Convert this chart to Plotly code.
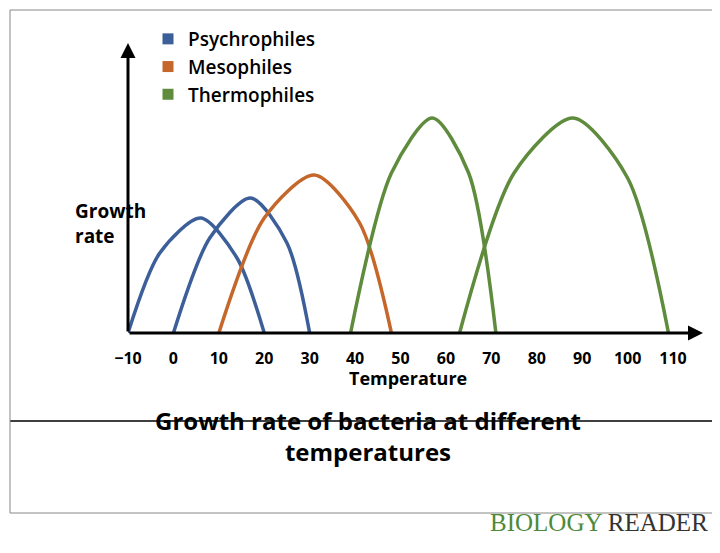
import plotly.graph_objects as go

# data (temperature °C, relative growth rate)
psy1_x = [-10, -3, 6, 14, 20]
psy1_y = [0, 80, 115, 75, 0]
psy2_x = [0, 8, 17, 25, 30]
psy2_y = [0, 95, 135, 90, 0]
meso_x = [10, 20, 31, 41, 48]
meso_y = [0, 115, 158, 110, 0]
thermo1_x = [39, 48, 57, 65, 71]
thermo1_y = [0, 160, 215, 160, 0]
thermo2_x = [63, 75, 88, 100, 109]
thermo2_y = [0, 160, 215, 155, 0]
tick_vals = [-10, 0, 10, 20, 30, 40, 50, 60, 70, 80, 90, 100, 110]

BLUE, ORANGE, GREEN = "#3d5f99", "#c5672b", "#5e8b3c"
fig = go.Figure()
for xs, ys, c in [(psy1_x, psy1_y, BLUE), (psy2_x, psy2_y, BLUE), (meso_x, meso_y, ORANGE),
                  (thermo1_x, thermo1_y, GREEN), (thermo2_x, thermo2_y, GREEN)]:
    fig.add_trace(go.Scatter(x=xs, y=ys, mode="lines", line=dict(color=c, width=3.5, shape="spline", smoothing=0.8),
                             showlegend=False, hoverinfo="skip"))
for name, c in [("Psychrophiles", BLUE), ("Mesophiles", ORANGE), ("Thermophiles", GREEN)]:
    fig.add_trace(go.Scatter(x=[None], y=[None], mode="markers", name=name,
                             marker=dict(symbol="square", size=11, color=c)))

def px(x): return (x - 120) / 575
def py(y): return (325 - y) / 290

fig.update_layout(
    width=720, height=553, margin=dict(l=120, r=25, t=35, b=228, autoexpand=False),
    plot_bgcolor="white", paper_bgcolor="white",
    font=dict(family="Open Sans", color="black"),
    xaxis=dict(range=[-10, 116.6], tickvals=tick_vals, showgrid=False, zeroline=False, showline=False,
               ticks="", ticklabelstandoff=14, tickfont=dict(size=16, weight="bold"), automargin=False),
    yaxis=dict(range=[0, 290], showgrid=False, zeroline=False, showticklabels=False, showline=False,
               automargin=False),
    legend=dict(x=px(140), y=py(12), xanchor="left", yanchor="top", font=dict(size=19, weight=600),
                bgcolor="rgba(0,0,0,0)", itemwidth=30, tracegroupgap=0),
    shapes=[
        dict(type="line", xref="paper", yref="paper", x0=px(2), x1=px(716), y0=py(413), y1=py(413),
             line=dict(color="black", width=1.5)),
        dict(type="rect", xref="paper", yref="paper", x0=px(2), x1=px(716), y0=py(505), y1=py(2),
             line=dict(color="#888", width=1)),
    ],
    annotations=[
        dict(x=116.6, y=0, ax=-10, ay=0, xref="x", yref="y", axref="x", ayref="y", text="",
             showarrow=True, arrowhead=2, arrowsize=1, arrowwidth=3, arrowcolor="black"),
        dict(x=-10, y=290, ax=-10, ay=0, xref="x", yref="y", axref="x", ayref="y", text="",
             showarrow=True, arrowhead=2, arrowsize=1, arrowwidth=3, arrowcolor="black"),
        dict(x=px(400), y=py(384), xref="paper", yref="paper", text="<b>Temperature</b>",
             showarrow=False, font=dict(size=18)),
        dict(x=px(65), y=py(215), xref="paper", yref="paper", text="<b>Growth<br>rate</b>",
             showarrow=False, font=dict(size=19), align="left"),
        dict(x=px(360), y=py(462), xref="paper", yref="paper",
             text="<b>Growth rate of bacteria at different<br>temperatures</b>",
             showarrow=False, font=dict(size=24), align="center"),
        dict(x=px(702), y=py(530), xref="paper", yref="paper", xanchor="right",
             text="<span style='color:#4e8a3a'>BIOLOGY</span> <span style='color:#333'>READER</span>",
             showarrow=False, font=dict(size=25, family="Liberation Serif")),
    ],
)
fig.write_html("out.html")
